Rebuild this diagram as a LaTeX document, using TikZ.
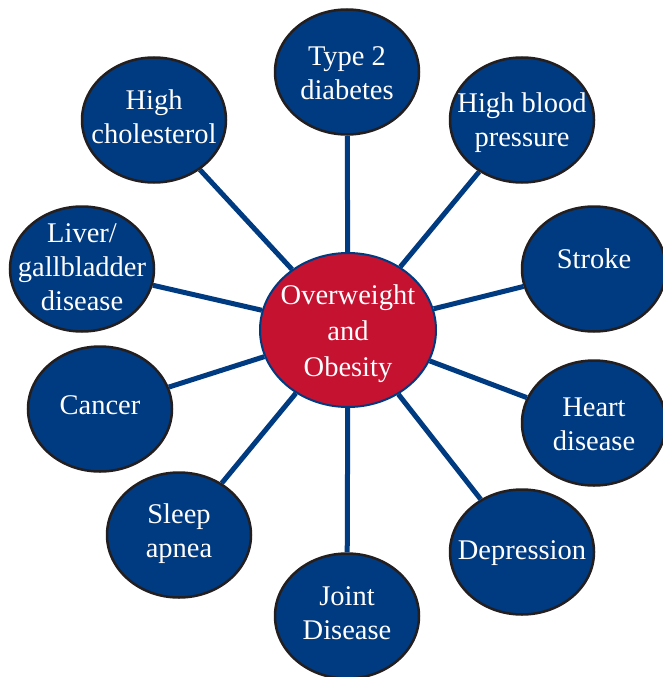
\documentclass[tikz,border=0pt]{standalone}
\usepackage{fontspec}
\setmainfont{Liberation Serif}
\usetikzlibrary{shapes.geometric}
\definecolor{navy}{RGB}{0,58,128}
\definecolor{obred}{RGB}{196,18,48}
\definecolor{rim}{RGB}{35,31,32}
\begin{document}
\begin{tikzpicture}[x=1pt,y=-1pt,
  outer/.style={ellipse,draw=rim,line width=2.5pt,fill=navy,minimum width=144pt,minimum height=125pt,inner sep=0pt},
  core/.style={ellipse,draw=navy,line width=2pt,fill=obred,minimum width=176pt,minimum height=154pt,inner sep=0pt},
  lbl/.style={text=white,align=center,inner sep=0pt,font=\fontsize{28.5}{34}\selectfont},
  corelbl/.style={text=white,align=center,inner sep=0pt,font=\fontsize{28.5}{36}\selectfont},
  link/.style={draw=navy,line width=5pt}]
\useasboundingbox (0,0) rectangle (662,677);
% nodes
\node[core]  (ow) at (348,330) {};
\node[outer] (t2) at (347,72) {};
\node[outer] (hc) at (154,120) {};
\node[outer] (hbp) at (522,120) {};
\node[outer] (lv) at (82,269) {};
\node[outer] (st) at (594,269) {};
\node[outer] (ca) at (100,409) {};
\node[outer] (hd) at (594,423) {};
\node[outer] (sa) at (179,535) {};
\node[outer] (dp) at (522,552) {};
\node[outer] (jd) at (347,616) {};
% connectors
\foreach \n in {t2,hc,hbp,lv,st,ca,hd,sa,dp,jd}{\path[link] (ow) -- (\n);}
% labels
\node[corelbl] (owt) at (348,334) {Overweight\\and\\Obesity};
\node[lbl] (t2t) at (347,73) {Type 2\\diabetes};
\node[lbl] (hct) at (154,116.5) {High\\cholesterol};
\node[lbl] (hbpt) at (522,123) {High blood\\pressure};
\node[lbl] (lvt) at (82,267.5) {Liver/\\gallbladder\\disease};
\node[lbl] (stt) at (594,259) {Stroke};
\node[lbl] (cat) at (100,405.5) {Cancer};
\node[lbl] (hdt) at (594,424.5) {Heart\\disease};
\node[lbl] (sat) at (179,533.5) {Sleep\\apnea};
\node[lbl] (dpt) at (522,553) {Depression};
\node[lbl] (jdt) at (347,613.5) {Joint\\Disease};
\end{tikzpicture}
\end{document}
